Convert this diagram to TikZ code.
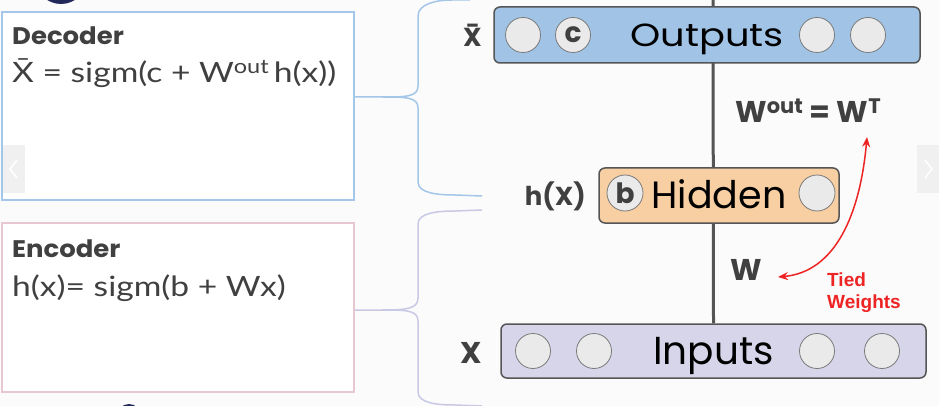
\documentclass[tikz,border=0pt]{standalone}
\usepackage{fontspec}
\setmainfont{Poppins}
\newfontfamily\formfont[FakeStretch=1.2]{Lato}
\newfontfamily\headfont[FakeStretch=1.08]{Poppins}
\newfontfamily\widesans[FakeStretch=1.2]{Poppins}
\newfontfamily\redfont{Liberation Sans}
\usepackage{tikz}
\usetikzlibrary{arrows.meta,backgrounds,positioning}
\definecolor{pagebg}{HTML}{FBFBFB}
\definecolor{inkgray}{HTML}{404040}
\definecolor{linegray}{HTML}{555555}
\definecolor{outblue}{HTML}{A0C3E6}
\definecolor{hidpeach}{HTML}{F7CFA2}
\definecolor{inlav}{HTML}{D7D5E9}
\definecolor{unitfill}{HTML}{EAEAEA}
\definecolor{unitedge}{HTML}{7A7A7A}
\definecolor{decline}{HTML}{A3C6E9}
\definecolor{encline}{HTML}{E8C8D0}
\definecolor{encbrace}{HTML}{C9C9E5}
\definecolor{tiedred}{HTML}{EE2424}
\definecolor{navy}{HTML}{23285A}
\definecolor{navgray}{HTML}{F0F0F0}
\tikzset{
  bar/.style={draw=linegray, line width=1.5pt, rounded corners=6pt, inner sep=0pt, text depth=0pt},
  unit/.style={circle, draw=unitedge, fill=unitfill, line width=0.8pt, minimum size=35pt, inner sep=0pt,
    text=inkgray, font=\bfseries\fontsize{28}{28}\selectfont},
  layerlabel/.style={anchor=base east, inner sep=0pt, text=inkgray},
  panel/.style={draw, line width=1.5pt, inner sep=0pt, fill=white},
  heading/.style={anchor=base west, inner sep=0pt, text=inkgray, font=\headfont\bfseries\fontsize{24}{24}\selectfont},
  formula/.style={anchor=base west, inner sep=0pt, text=inkgray, font=\formfont\fontsize{28}{28}\selectfont},
  brace/.style={line width=1.5pt},
  tied/.style={tiedred, line width=1.5pt, {Stealth[length=10pt,width=8pt]}-{Stealth[length=10pt,width=8pt]}},
  tiedtext/.style={anchor=base west, inner sep=0pt, text=tiedred, font=\redfont\bfseries\fontsize{19}{19}\selectfont},
}

\begin{document}
\begin{tikzpicture}[x=1pt,y=-1pt]
\useasboundingbox (0,0) rectangle (939,406);

\fill[navy] (61,-22) circle (26pt);
\fill[navy] (129,416) circle (12pt);

\node[panel, draw=decline, minimum width=352pt, minimum height=188pt] (decbox) at (178,106) {};
\node[heading] (dechead) at (12,45) {Decoder};
\node[formula] (decform) at (12,83) {\=X = sigm(c + W\textsuperscript{out}\,h(x))};

\node[panel, draw=encline, minimum width=352pt, minimum height=169pt] (encbox) at (178,307.5) {};
\node[heading] (enchead) at (12,257) {Encoder};
\node[formula] (encform) at (12,296) {h(x)= sigm(b + Wx)};

\fill[navgray] (3,145) rectangle (25,193);
\draw[white, line width=1.5pt] (17,160) -- (10,169) -- (17,178);
\fill[navgray] (917,145) rectangle (939,193);
\draw[white, line width=1.5pt] (925,160) -- (932,169) -- (925,178);

\draw[brace, decline] (decbox.east |- 0,97) -- ++(27,0) coordinate (dtip)
  .. controls +(24,0) and +(0,11) .. (418,86) -- (418,16)
  .. controls +(0,-12) and +(-16,0) .. (452,0) -- (470,0);
\draw[brace, decline] (dtip) .. controls +(24,0) and +(0,-11) .. (418,108) -- (418,182)
  .. controls +(0,11) and +(-18,0) .. (455,195) -- (482,196);
\draw[brace, encbrace] (encbox.east |- 0,310) -- ++(27,0) coordinate (etip)
  .. controls +(24,0) and +(0,11) .. (418,298) -- (418,224)
  .. controls +(0,-11) and +(-18,0) .. (455,211) -- (482,210);
\draw[brace, encbrace] (etip) .. controls +(24,0) and +(0,-11) .. (418,321) -- (418,392)
  .. controls +(0,11) and +(-18,0) .. (455,405) -- (482,406);

\node[bar, fill=outblue, minimum width=426pt, minimum height=56pt, text height=22.4pt,
  font=\widesans\fontsize{32}{32}\selectfont] (outputs) at (707,35) {Outputs};
\node[bar, fill=hidpeach, minimum width=240pt, minimum height=55pt, text height=26.6pt,
  font=\fontsize{38}{38}\selectfont] (hidden) at (719,195.5) {Hidden};
\node[bar, fill=inlav, minimum width=425pt, minimum height=54pt, text height=27.3pt,
  font=\fontsize{39}{39}\selectfont] (inputs) at (713.5,351) {Inputs};

\node[unit] (o1) at (523,35) {};
\node[unit] (o2) at (573,35) {c};
\node[unit] (o3) at (817,35) {};
\node[unit] (o4) at (868,35) {};
\node[unit, minimum size=36pt] (h1) at (625,193) {b};
\node[unit, minimum size=36pt] (h2) at (817,193) {};
\node[unit] (i1) at (533,351) {};
\node[unit] (i2) at (594,351) {};
\node[unit] (i3) at (817,351) {};
\node[unit] (i4) at (882,351) {};

\node[layerlabel, font=\bfseries\fontsize{26}{26}\selectfont] (xbar) at (482,47) {\accent"00AF X};
\node[layerlabel, font=\bfseries\fontsize{26}{26}\selectfont] (hx) at (586,205) {h(X)};
\node[layerlabel, font=\bfseries\fontsize{30}{30}\selectfont] (xin) at (482,363) {X};

\node[anchor=base west, inner sep=0pt, text=inkgray, font=\bfseries\fontsize{30}{30}\selectfont]
  (wout) at (735,123) {W\textsuperscript{out} = W\textsuperscript{T}};
\node[anchor=base west, inner sep=0pt, text=inkgray, font=\bfseries\fontsize{30}{30}\selectfont]
  (win) at (730,280) {W};

\node[tiedtext] (tied1) at (827,286) {Tied};
\node[tiedtext] (tied2) at (827,308) {Weights};
\coordinate (tiedtop) at (867,137);
\coordinate (tiedend) at (778,277);
\draw[tied] (tiedend) .. controls (835,272) and (860,215) .. (tiedtop);

\begin{scope}[on background layer]
\fill[pagebg] (0,0) rectangle (939,406);
\coordinate (stem) at (713,0);
\draw[linegray, line width=3pt] (stem) -- (inputs.north);
\end{scope}
\end{tikzpicture}
\end{document}
